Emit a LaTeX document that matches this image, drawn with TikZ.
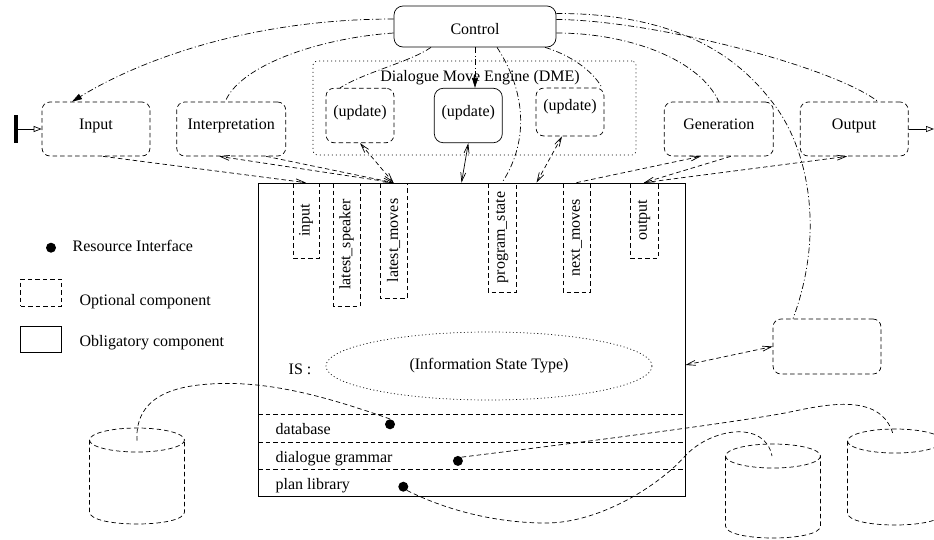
\documentclass[tikz,border=0pt]{standalone}
\usepackage{fontspec}
\setmainfont{Liberation Serif}
\usetikzlibrary{shapes.geometric,arrows.meta,positioning}

\tikzset{
    dashline/.style={dash pattern=on 4.5pt off 3pt},
    dashdot/.style={dash pattern=on 6pt off 2.5pt on 1pt off 2.5pt},
    optbox/.style={draw, dashline, rounded corners=8pt, inner sep=0pt},
    oblbox/.style={draw, rounded corners=9pt, inner sep=0pt},
    modbox/.style={text height=11pt, text depth=11pt},
    slotbox/.style={draw, dashline, rotate=90, inner sep=0pt},
    rdot/.style={circle, fill, inner sep=0pt, minimum size=10pt},
    stick/.style={-{Straight Barb[length=9pt,width=5pt]}},
    bistick/.style={{Straight Barb[length=9pt,width=5pt]}-{Straight Barb[length=9pt,width=5pt]}},
    ctrlarrow/.style={-{Triangle[length=10pt,width=6pt]}},
    ioarrow/.style={-{Triangle[open,length=8pt,width=6pt]}},
}

\begin{document}
\begin{tikzpicture}[x=1pt, y=-1pt, line width=0.7pt, font=\fontsize{16}{19}\selectfont]
        \useasboundingbox (0,0) rectangle (934,539);
        % Draw control module
        \node[oblbox, minimum width=162pt, minimum height=41pt, text height=15.6pt, text depth=0pt] (ctrl) at (475,26.5) {Control};
        % Draw dialogue move engine
        \node[draw, dash pattern=on 1pt off 3pt, rounded corners=4pt, minimum width=323pt, minimum height=94pt] (dme) at (474.5,108) {};
        \node[anchor=base] (dmename) at (480,81.7) {Dialogue Move Engine (DME)};
        \node[optbox, minimum width=68pt, minimum height=54.5pt, text height=12pt, text depth=9.6pt] (upd1) at (360,115.5) {(update)};
        \node[oblbox, minimum width=68pt, minimum height=54.5pt, text height=12pt, text depth=9.6pt] (upd2) at (468.3,115.5) {(update)};
        \node[optbox, minimum width=68pt, minimum height=48pt, text height=11pt, text depth=15pt] (upd3) at (570,112) {(update)};
        % Draw modules
        \node[optbox, modbox, minimum width=108pt, minimum height=54pt] (inp) at (96,129) {Input};
        \node[optbox, modbox, minimum width=109pt, minimum height=54pt] (interp) at (231.2,129) {Interpretation};
        \node[optbox, modbox, minimum width=109pt, minimum height=54pt] (gen) at (718.8,129) {Generation};
        \node[optbox, modbox, minimum width=108pt, minimum height=54pt] (outp) at (854.2,129) {Output};
        \node[optbox, minimum width=108pt, minimum height=55pt] (ext) at (827,346.5) {};
        % Draw input and output terminals
        \draw[line width=4pt] (16,115) -- (16,143);
        \coordinate (src) at (18,129);
        \coordinate (sink) at (934,129);
        \draw[ioarrow] (src) -- (inp.west);
        \draw[ioarrow] (outp.east) -- (sink);
        % Draw information state
        \node[draw, minimum width=427pt, minimum height=313pt, inner sep=0pt] (is) at (471.5,339.5) {};
        \node[slotbox, minimum width=75pt, minimum height=26pt] (sinput) at (306,220.5) {input};
        \node[slotbox, minimum width=123pt, minimum height=27pt] (slspk) at (346.5,244.5) {latest\_speaker};
        \node[slotbox, minimum width=115pt, minimum height=27pt] (slmov) at (393.5,240.5) {latest\_moves};
        \node[slotbox, minimum width=109pt, minimum height=28pt] (spst) at (502,237.5) {program\_state};
        \node[slotbox, minimum width=109pt, minimum height=27pt] (snmov) at (576.5,237.5) {next\_moves};
        \node[slotbox, minimum width=75pt, minimum height=28pt] (soutp) at (644,220.5) {output};
        \node[anchor=base west] (islabel) at (285,374) {IS :};
        \node[draw, ellipse, dash pattern=on 1pt off 2.5pt, minimum width=326pt, minimum height=68pt, inner sep=0pt] (ist) at (489,366) {(Information State Type)};
        % Draw resources
        \draw[dashline] (258,414) -- (685,414);
        \draw[dashline] (258,442) -- (685,442);
        \draw[dashline] (258,469) -- (685,469);
        \node[anchor=base west] (dbname) at (272,434.3) {database};
        \node[anchor=base west] (dgname) at (272,462.7) {dialogue grammar};
        \node[anchor=base west] (plname) at (272,489.3) {plan library};
        \node[rdot] (dbdot) at (390,424.3) {};
        \node[rdot] (dgdot) at (457.9,460.9) {};
        \node[rdot] (pldot) at (403.3,486.7) {};
        % Draw legend
        \node[rdot] (legdot) at (51,247.7) {};
        \node[anchor=base west] (legres) at (69,251.7) {Resource Interface};
        \node[draw, dashline, minimum width=41pt, minimum height=27pt, inner sep=0pt] (legopt) at (41.2,292.6) {};
        \node[anchor=base west] (legopttext) at (76,305) {Optional component};
        \node[draw, minimum width=41pt, minimum height=26pt, inner sep=0pt] (legobl) at (41.3,339.7) {};
        \node[anchor=base west] (legobltext) at (76,346.7) {Obligatory component};
        % Draw databases
        \foreach \cx/\ct/\cb in {137/440/512, 773/456/526, 895/441/513} {
            \draw[dashline] (\cx,\ct) ellipse [x radius=47.5, y radius=12];
            \draw[dashline] (\cx-47.5,\ct) -- (\cx-47.5,\cb) .. controls (\cx-47.5,\cb+16) and (\cx+47.5,\cb+16) .. (\cx+47.5,\cb) -- (\cx+47.5,\ct);
        }
        \coordinate (cylL) at (137,441);
        \coordinate (cylM) at (772,456);
        \coordinate (cylR) at (893,434);
        \draw[dashline] (dbdot.north) .. controls (330,398) and (270,380) .. (210,384) .. controls (160,387) and (135,405) .. (cylL);
        \draw[dashline] (dgdot.north east) .. controls (600,440) and (730,423) .. (785,413) .. controls (820,406) and (880,390) .. (cylR);
        \draw[dashline] (pldot.south east) .. controls (450,512) and (500,523) .. (546,523) .. controls (600,523) and (660,485) .. (686,455) .. controls (712,428) and (765,420) .. (cylM);
        % Draw control connections
        \draw[dashdot, ctrlarrow] ([yshift=7.5pt]ctrl.west) .. controls (250,19) and (140,60) .. ([xshift=-24pt]inp.north);
        \draw[dashdot] ([yshift=-6.5pt]ctrl.west) .. controls (320,38) and (240,65) .. ([xshift=-6pt]interp.north);
        \draw[dashdot] ([xshift=-44pt]ctrl.south) .. controls (410,62) and (365,72) .. ([xshift=-20pt]upd1.north);
        \draw[dashdot, ctrlarrow] (ctrl.south) -- (ctrl.south |- upd2.north);
        \draw[dashdot] ([xshift=22pt]ctrl.south) .. controls (525,90) and (530,140) .. (spst.center |- is.north);
        \draw[dashdot] ([xshift=70pt]ctrl.south) .. controls (570,55) and (592,70) .. ([xshift=32pt]upd3.north);
        \draw[dashdot] ([yshift=13pt]ctrl.east) .. controls (696,13) and (748.6,71.4) .. (773,103) .. controls (809.6,150.4) and (824.5,234.4) .. ([xshift=-34pt]ext.north);
        \draw[dashdot] ([yshift=7pt]ctrl.east) .. controls (650,20) and (830,65) .. ([xshift=24pt]outp.north);
        \draw[dashdot] ([yshift=-6.5pt]ctrl.east) .. controls (630,33) and (700,60) .. (gen.north);
        % Draw information state connections
        \draw[dashline, stick] ([xshift=7pt]inp.south) -- (sinput.center |- is.north);
        \draw[dashline, stick] (slmov.center |- is.north) -- ([xshift=-12pt]interp.south);
        \draw[dashline, stick] ([xshift=35pt]interp.south) -- (slmov.center |- is.north);
        \draw[dashline, bistick] (upd1.south) -- (slmov.center |- is.north);
        \draw[bistick] (upd2.south) -- ([xshift=-10pt]is.north);
        \draw[dashline, bistick] ([xshift=-8pt]upd3.south) -- ([xshift=65pt]is.north);
        \draw[dashline, stick] (snmov.center |- is.north) -- ([xshift=-18pt]gen.south);
        \draw[dashline, stick] ([xshift=12pt]gen.south) -- (soutp.center |- is.north);
        \draw[dashline, stick] (soutp.center |- is.north) -- ([xshift=-7pt]outp.south);
        \draw[dashline, bistick] ([yshift=-25.5pt]is.east) -- (ext.west);
\end{tikzpicture}
\end{document}
